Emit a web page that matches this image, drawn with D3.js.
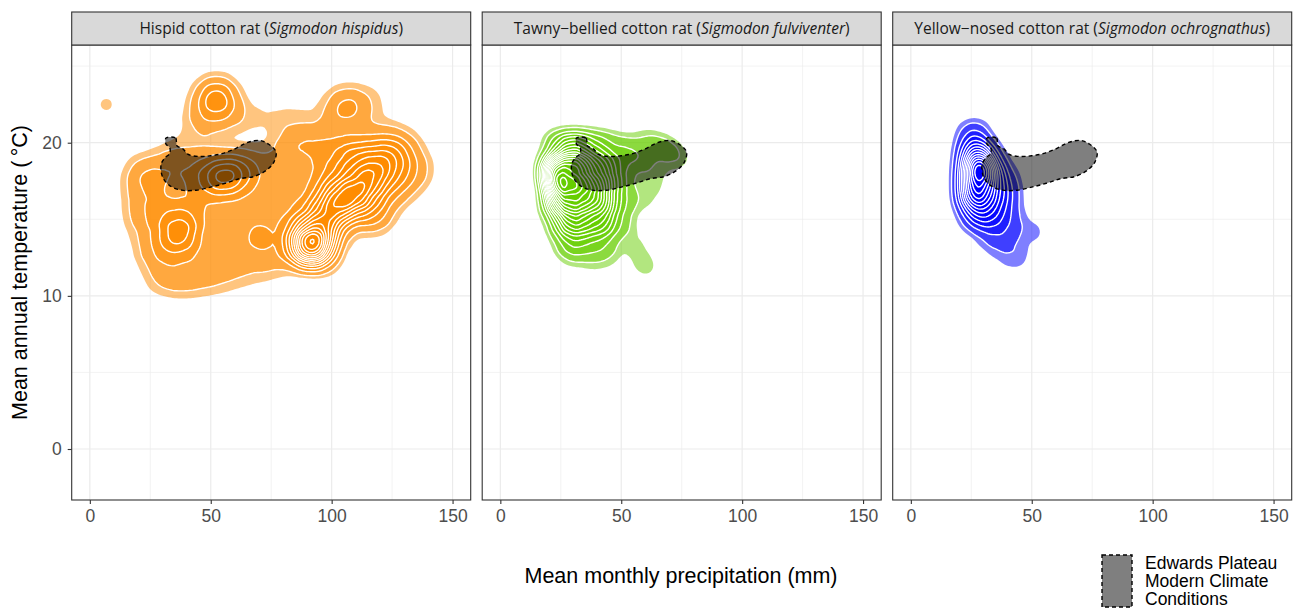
<!DOCTYPE html>
<html>
<head>
<meta charset="utf-8">
<script src="https://cdn.jsdelivr.net/npm/d3@7"></script>
<style>
  body { margin: 0; background: #fff; }
</style>
</head>
<body>
<div id="chart"></div>
<script>
"use strict";

// facets
const commonNames = ["Hispid cotton rat", "Tawny\u2212bellied cotton rat", "Yellow\u2212nosed cotton rat"];
const latinNames = ["Sigmodon hispidus", "Sigmodon fulviventer", "Sigmodon ochrognathus"];
const speciesColours = ["#FF8C00", "#66CD00", "#0000FF"];

const xTicks = [0, 50, 100, 150];
const xMinor = [25, 75, 125];
const yTicks = [0, 10, 20];
const yMinor = [5, 15, 25];

// estimated record locations: [precipitation mm, temperature C, weight]
const hispidusPoints = [
  [30, 11.3, 1.3], [40, 11.1, 1.3], [51, 11.3, 1.2], [62, 11.7, 1.05], [74, 12.1, 1.05],
  [25, 13.2, 1.3], [33, 13.1, 1.3], [45, 12.9, 1.2], [57, 13.3, 1.05], [68, 13.6, 1.05], [80, 13.2, 1.05],
  [100, 14.0, 1.3], [114, 15.3, 1.2],
  [21, 15.3, 1.3], [29, 15.4, 1.3], [41, 15.2, 1.3], [52, 15.4, 1.1], [64, 15.5, 1.05], [76, 15.3, 1.05], [88, 15.6, 1.2],
  [21, 17.2, 1.3], [31, 17.4, 1.3], [42, 17.2, 1.3], [54, 17.3, 1.2], [66, 17.1, 1.05], [78, 17.2, 1.05], [90, 17.4, 1.2],
  [102, 17.8, 1.3], [126, 16.8, 1.2], [135, 18.2, 1.2],
  [23, 18.2, 1.2], [35, 18.9, 1.3], [47, 18.7, 1.3], [59, 18.5, 1.1], [70, 18.6, 1.0], [82, 19.3, 1.2],
  [94, 19.4, 1.3], [106, 19.3, 1.3], [118, 19.5, 1.3], [130, 19.6, 1.3],
  [86, 20.2, 1.0], [98, 20.3, 1.0], [110, 20.3, 0.8], [122, 20.4, 0.8],
  [52.5, 23.0, 3.4], [47, 22.3, 0.9], [58, 22.0, 0.9], [44, 21.0, 0.7], [52, 21.2, 0.6],
  [6.8, 22.5, 0.65],
  [106, 22.4, 2.2], [99, 21.8, 0.5], [113, 22.3, 0.5],
  [66, 21.6, 0.45], [76, 21.6, 0.45], [86, 21.7, 0.45], [118, 22.8, 0.4],
  [56, 17.8, 3.2], [49, 17.5, 1.2], [63, 18.1, 1.2],
  [36.8, 13.9, 3.2], [33, 15.2, 1.0], [41, 15.0, 1.0],
  [70.3, 14.0, 1.1],
  [91, 13.3, 12], [95, 12.9, 2.0], [87, 14.5, 2.0], [96, 15.2, 3.0], [97, 14.5, 2.5],
  [103, 15.9, 5.0], [109.5, 16.7, 6.0], [116, 17.5, 5.0], [100, 16.5, 2.5],
  [110, 18.8, 3.0], [120, 18.5, 3.0], [125, 19.2, 2.0], [118, 15.5, 2.0], [128, 17.8, 1.6], [100, 18.0, 1.2]
];

const fulviventerPoints = [
  [23, 19.9, 2.5], [29, 19.9, 5], [35, 19.9, 4], [42, 19.9, 2.5], [49, 19.9, 1],
  [23, 18.6, 7], [29, 18.6, 11], [35, 18.6, 9], [42, 18.6, 6], [49, 18.6, 2.5],
  [23, 17.3, 10], [29, 17.3, 12], [35, 17.3, 11], [42, 17.3, 8], [49, 17.3, 3],
  [23, 16.0, 7], [29, 16.0, 10], [35, 16.0, 9], [42, 16.0, 8], [49, 16.0, 2.5],
  [24, 14.7, 2.5], [29, 14.7, 6], [35, 14.7, 6], [42, 14.7, 5], [48, 14.7, 1.5],
  [27, 13.4, 2], [33, 13.4, 2.5], [40, 13.4, 2], [46, 13.4, 1],
  [30, 12.5, 0.8], [38, 12.3, 0.8], [45, 12.4, 0.6],
  [21.5, 18.1, 6], [23.5, 16.9, 3], [37.5, 16.6, 2],
  [53, 19.6, 1.3], [58, 18.8, 1.8], [60, 20.1, 1.1], [66, 19.8, 1.3], [71, 19.4, 1.1], [75, 18.8, 0.5], [66, 18.4, 0.6],
  [55, 16.0, 0.6], [59, 17.3, 0.6], [60, 16.3, 0.55], [65, 17.2, 0.5],
  [53, 14.5, 0.7], [56, 13.2, 0.7], [58.5, 12.2, 0.6], [61, 11.8, 0.45]
];

const ochrognathusPoints = [
  [24, 20.5, 1.1], [27.5, 20.5, 1.6],
  [24, 19.2, 2.5], [27.5, 19.2, 4.2], [31, 19.2, 2.2], [36, 19.0, 0.5],
  [24, 17.9, 3.0], [26.5, 17.9, 5.2], [29, 18.4, 4.2], [31, 17.9, 5.6], [36, 17.9, 2.2], [41, 17.6, 0.6],
  [24, 16.6, 2.8], [26.5, 16.6, 6.0], [31, 16.6, 4.2], [36, 16.6, 2.8], [41, 16.6, 1.0],
  [25, 15.3, 1.6], [28.5, 15.3, 2.6], [33, 15.3, 2.4], [38, 15.3, 1.5], [43, 15.3, 0.6],
  [30, 14.0, 0.7], [35, 14.0, 1.0], [40, 14.0, 0.9], [45, 14.2, 0.45], [50, 14.2, 0.35], [54, 14.2, 0.3],
  [36, 12.9, 0.5], [42, 12.5, 0.6], [46, 12.6, 0.4],
  [60, 12.45, 0.55]
];

const pointSets = [hispidusPoints, fulviventerPoints, ochrognathusPoints];
const bandwidths = [12.5, 8, 9];

// Edwards Plateau modern climate outline: [precipitation mm, temperature C]
const plateauOutline = [
  [31.5, 20.3], [35.5, 20.3], [36, 19.8], [38.5, 19.6], [40.5, 19.25], [45, 19.1], [50, 19.15],
  [55, 19.3], [60, 19.6], [65, 20.0], [70, 20.15], [74, 19.9], [77, 19.4], [76, 18.7],
  [73, 18.2], [68, 17.8], [62, 17.65], [56, 17.35], [50, 17.1], [44, 16.9], [38, 16.9],
  [33, 17.2], [30, 17.8], [29.5, 18.6], [31, 19.0], [33, 19.3], [33, 19.7], [31.5, 19.9]
];

const legendLines = ["Edwards Plateau", "Modern Climate", "Conditions"];

const W = 1300, H = 610;
const panelLeft = [71.7, 482.2, 892.7];
const panelW = 399, panelTop = 45, panelH = 455, stripTop = 12;

const x = d3.scaleLinear().domain([-7.5, 157.5]).range([0, panelW]);
const y = d3.scaleLinear().domain([-3.33, 26.38]).range([panelH, 0]);

// density levels, in units of one isolated record's peak height
const levels = [0.5];
for (let k = 1; k <= 40; k++) levels.push(k);

const svg = d3.select("#chart").append("svg")
  .attr("width", W)
  .attr("height", H)
  .style("font-family", "'Liberation Sans', Arial, sans-serif");

svg.append("rect").attr("width", W).attr("height", H).attr("fill", "white");

const defs = svg.append("defs");
const geo = d3.geoPath();
const outline = d3.line()
  .x(d => x(d[0]))
  .y(d => y(d[1]))
  .curve(d3.curveCatmullRomClosed.alpha(0.5));

commonNames.forEach((name, i) => {
  const g = svg.append("g").attr("transform", `translate(${panelLeft[i]},${panelTop})`);

  defs.append("clipPath").attr("id", "clip" + i)
    .append("rect").attr("width", panelW).attr("height", panelH);

  // Grid
  g.selectAll(".vmin").data(xMinor).join("line")
    .attr("x1", d => x(d)).attr("x2", d => x(d))
    .attr("y1", 0).attr("y2", panelH)
    .attr("stroke", "#EBEBEB").attr("stroke-width", 0.6);
  g.selectAll(".hmin").data(yMinor).join("line")
    .attr("y1", d => y(d)).attr("y2", d => y(d))
    .attr("x1", 0).attr("x2", panelW)
    .attr("stroke", "#EBEBEB").attr("stroke-width", 0.6);
  g.selectAll(".vmaj").data(xTicks).join("line")
    .attr("x1", d => x(d)).attr("x2", d => x(d))
    .attr("y1", 0).attr("y2", panelH)
    .attr("stroke", "#EBEBEB").attr("stroke-width", 1.2);
  g.selectAll(".hmaj").data(yTicks).join("line")
    .attr("y1", d => y(d)).attr("y2", d => y(d))
    .attr("x1", 0).attr("x2", panelW)
    .attr("stroke", "#EBEBEB").attr("stroke-width", 1.2);

  const plot = g.append("g").attr("clip-path", `url(#clip${i})`);

  // Density bands
  const bw = bandwidths[i];
  const unit = 1 / (2 * Math.PI * bw * bw);
  const contours = d3.contourDensity()
    .x(d => x(d[0]))
    .y(d => y(d[1]))
    .weight(d => d[2])
    .size([panelW, panelH])
    .cellSize(2)
    .bandwidth(bw)
    .thresholds(levels.map(l => l * unit))(pointSets[i]);

  plot.selectAll(".band").data(contours).join("path")
    .attr("d", geo)
    .attr("fill", speciesColours[i])
    .attr("fill-opacity", 0.5)
    .attr("stroke", "none");

  plot.selectAll(".iso").data(contours.slice(1)).join("path")
    .attr("d", geo)
    .attr("fill", "none")
    .attr("stroke", "white")
    .attr("stroke-width", 1.4);

  // Edwards Plateau
  plot.append("path")
    .attr("d", outline(plateauOutline))
    .attr("fill", "black")
    .attr("fill-opacity", 0.5)
    .attr("stroke", "black")
    .attr("stroke-width", 1.4)
    .attr("stroke-dasharray", "4,3");

  // Border
  g.append("rect")
    .attr("width", panelW).attr("height", panelH)
    .attr("fill", "none").attr("stroke", "#333333").attr("stroke-width", 1.1);

  // Strip
  g.append("rect")
    .attr("y", stripTop - panelTop).attr("width", panelW).attr("height", panelTop - stripTop)
    .attr("fill", "#D9D9D9").attr("stroke", "#333333").attr("stroke-width", 1.1);
  const label = g.append("text")
    .attr("x", panelW / 2).attr("y", (stripTop - panelTop) / 2 + 5.5)
    .attr("text-anchor", "middle")
    .attr("font-family", "'Open Sans', sans-serif")
    .attr("font-size", 15.5)
    .attr("fill", "#1A1A1A");
  label.append("tspan").text(name + " (");
  label.append("tspan").attr("font-style", "italic").text(latinNames[i]);
  label.append("tspan").text(")");

  // X axis
  const xa = g.append("g").attr("transform", `translate(0,${panelH})`)
    .call(d3.axisBottom(x).tickValues(xTicks).tickSize(4).tickPadding(6));
  xa.select(".domain").remove();
  xa.selectAll("line").attr("stroke", "#333333").attr("stroke-width", 1.1);
  xa.selectAll("text").attr("fill", "#4D4D4D").attr("font-size", 17.5)
    .attr("font-family", "'Liberation Sans', Arial, sans-serif");

  if (i === 0) {
    const ya = g.append("g")
      .call(d3.axisLeft(y).tickValues(yTicks).tickSize(4).tickPadding(6));
    ya.select(".domain").remove();
    ya.selectAll("line").attr("stroke", "#333333").attr("stroke-width", 1.1);
    ya.selectAll("text").attr("fill", "#4D4D4D").attr("font-size", 17.5)
      .attr("font-family", "'Liberation Sans', Arial, sans-serif");
  }
});

// Axis titles
svg.append("text")
  .attr("x", 681).attr("y", 583)
  .attr("text-anchor", "middle")
  .attr("font-size", 21.5)
  .attr("fill", "black")
  .text("Mean monthly precipitation (mm)");

svg.append("text")
  .attr("transform", "translate(27,272.5) rotate(-90)")
  .attr("text-anchor", "middle")
  .attr("font-size", 21.5)
  .attr("fill", "black")
  .text("Mean annual temperature (\u2009\u00B0C)");

// Legend
svg.append("rect")
  .attr("x", 1102).attr("y", 555).attr("width", 30).attr("height", 52)
  .attr("fill", "black").attr("fill-opacity", 0.5)
  .attr("stroke", "black").attr("stroke-width", 1.4).attr("stroke-dasharray", "4,3");

svg.append("g").selectAll("text")
  .data(legendLines)
  .join("text")
  .attr("x", 1145)
  .attr("y", (d, k) => 568.5 + k * 18.3)
  .attr("font-size", 17.5)
  .attr("fill", "black")
  .text(d => d);
</script>
</body>
</html>
